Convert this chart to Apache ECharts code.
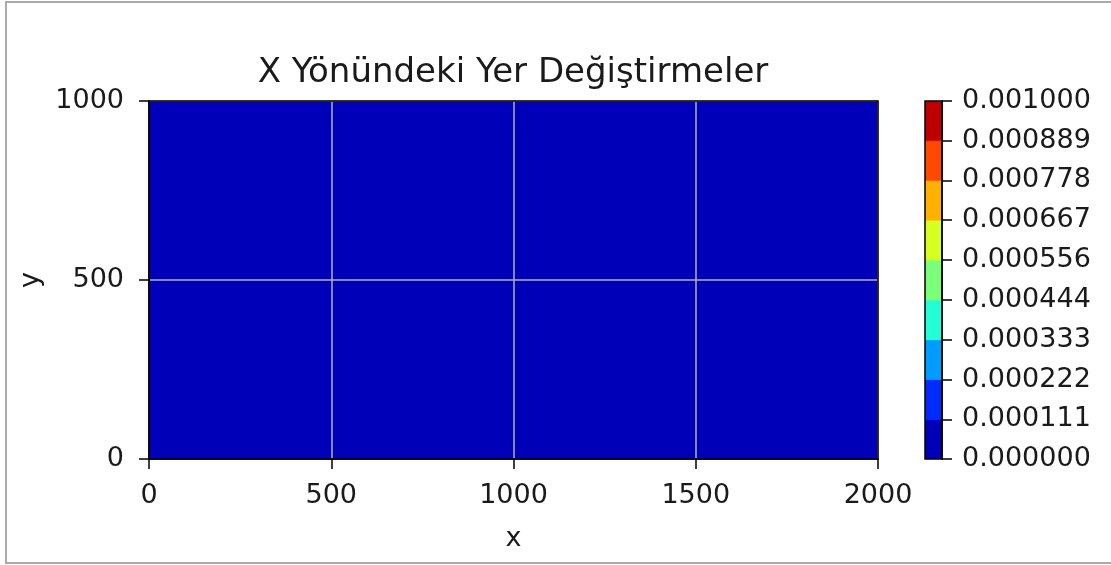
<!DOCTYPE html>
<html>
<head>
<meta charset="utf-8">
<script src="https://cdn.jsdelivr.net/npm/echarts@6/dist/echarts.min.js"></script>
<style>
  html, body { margin: 0; padding: 0; background: #fff; }
  #chart { width: 1111px; height: 565px; }
</style>
</head>
<body>
<div id="chart"></div>
<script>
// Mesh nodes (m) and nodal X-direction displacement u_x on that mesh
const xNodes = [0, 500, 1000, 1500, 2000];
const yNodes = [0, 500, 1000];
const uxField = [
  [0, 0, 0, 0, 0],
  [0, 0, 0, 0, 0],
  [0, 0, 0, 0, 0]
];

// Contour levels and the fill colour of each band between them (jet)
const levels = [0, 0.000111, 0.000222, 0.000333, 0.000444, 0.000556, 0.000667, 0.000778, 0.000889, 0.001];
const bandColors = ['#0000b8', '#002aff', '#009cff', '#20ffd6', '#7bff7b', '#d7ff20', '#ffb100', '#ff4800', '#c00000'];

const xTicks = [0, 500, 1000, 1500, 2000];
const yTicks = [0, 500, 1000];

const titleText = 'X Yönündeki Yer Değiştirmeler';
const FONT = 'DejaVu Sans';
const INK = '#1a1a1a';
const TICK_FS = 27;

function bandIndex(v) {
  for (let i = 0; i < levels.length - 1; i++) {
    if (v < levels[i + 1]) return i;
  }
  return levels.length - 2;
}

// One rectangle per mesh cell, coloured by the band of its mean value
const cells = [];
for (let j = 0; j < yNodes.length - 1; j++) {
  for (let i = 0; i < xNodes.length - 1; i++) {
    const m = (uxField[j][i] + uxField[j][i + 1] + uxField[j + 1][i] + uxField[j + 1][i + 1]) / 4;
    cells.push([xNodes[i], xNodes[i + 1], yNodes[j], yNodes[j + 1], bandIndex(m)]);
  }
}

const bands = [];
for (let i = 0; i < levels.length - 1; i++) bands.push([0, 1, levels[i], levels[i + 1], i]);

function rectItem(params, api) {
  const p0 = api.coord([api.value(0), api.value(3)]);
  const p1 = api.coord([api.value(1), api.value(2)]);
  const c = bandColors[api.value(4)];
  return {
    type: 'rect',
    shape: { x: p0[0], y: p0[1], width: p1[0] - p0[0], height: p1[1] - p0[1] },
    style: { fill: c, stroke: c, lineWidth: 0.6 }
  };
}

const chart = echarts.init(document.getElementById('chart'));
chart.setOption({
  animation: false,
  backgroundColor: '#fff',
  grid: [
    { left: 149, top: 101, width: 729, height: 358, show: true, borderColor: '#000', borderWidth: 1.5, backgroundColor: 'transparent', z: 6 },
    { left: 925, top: 101, width: 17, height: 358, show: true, borderColor: '#000', borderWidth: 1.5, backgroundColor: 'transparent', z: 6 }
  ],
  xAxis: [
    {
      gridIndex: 0, type: 'value', min: 0, max: 2000, interval: 500, z: 5,
      name: 'x', nameLocation: 'middle', nameGap: 66,
      nameTextStyle: { fontFamily: FONT, fontSize: TICK_FS, color: INK },
      axisLine: { show: true, onZero: false, lineStyle: { color: '#000', width: 1.5 } },
      axisTick: { show: true, inside: false, length: 10, lineStyle: { color: '#000', width: 1.5 } },
      axisLabel: { fontFamily: FONT, fontSize: TICK_FS, color: INK, margin: 23,
        customValues: xTicks, formatter: v => String(v) },
      splitLine: { show: true, lineStyle: { color: '#b0b0b0', width: 1.5 } }
    },
    {
      gridIndex: 1, type: 'value', min: 0, max: 1, show: false,
      axisLine: { onZero: false }
    }
  ],
  yAxis: [
    {
      gridIndex: 0, type: 'value', min: 0, max: 1000, interval: 500, z: 5,
      name: 'y', nameLocation: 'middle', nameGap: 102,
      nameTextStyle: { fontFamily: FONT, fontSize: TICK_FS, color: INK },
      axisLine: { show: true, onZero: false, lineStyle: { color: '#000', width: 1.5 } },
      axisTick: { show: true, inside: false, length: 10, lineStyle: { color: '#000', width: 1.5 } },
      axisLabel: { fontFamily: FONT, fontSize: TICK_FS, color: INK, margin: 25,
        customValues: yTicks, formatter: v => String(v) },
      splitLine: { show: true, lineStyle: { color: '#b0b0b0', width: 1.5 } }
    },
    {
      gridIndex: 1, type: 'value', position: 'right', min: 0, max: 0.001, z: 5,
      axisLine: { show: true, onZero: false, lineStyle: { color: '#000', width: 1.5 } },
      axisTick: { show: true, inside: false, length: 10, customValues: levels, lineStyle: { color: '#000', width: 1.5 } },
      axisLabel: { fontFamily: FONT, fontSize: TICK_FS, color: INK, margin: 20,
        customValues: levels, formatter: v => v.toFixed(6) },
      splitLine: { show: false }
    }
  ],
  series: [
    {
      type: 'custom', xAxisIndex: 0, yAxisIndex: 0, z: 1,
      renderItem: rectItem, data: cells, clip: true,
      encode: { x: [0, 1], y: [2, 3] }
    },
    {
      type: 'custom', xAxisIndex: 1, yAxisIndex: 1, z: 1,
      renderItem: rectItem, data: bands, clip: true,
      encode: { x: [0, 1], y: [2, 3] }
    }
  ],
  graphic: [
    {
      type: 'text', x: 513, y: 73, z: 10,
      style: { text: titleText, fontFamily: FONT, fontSize: 34, fill: INK, align: 'center', verticalAlign: 'middle' }
    },
    {
      type: 'rect', z: 10, silent: true,
      shape: { x: 6, y: 2, width: 1112, height: 561 },
      style: { fill: 'none', stroke: '#aaaaaa', lineWidth: 2 }
    }
  ]
});
</script>
</body>
</html>
